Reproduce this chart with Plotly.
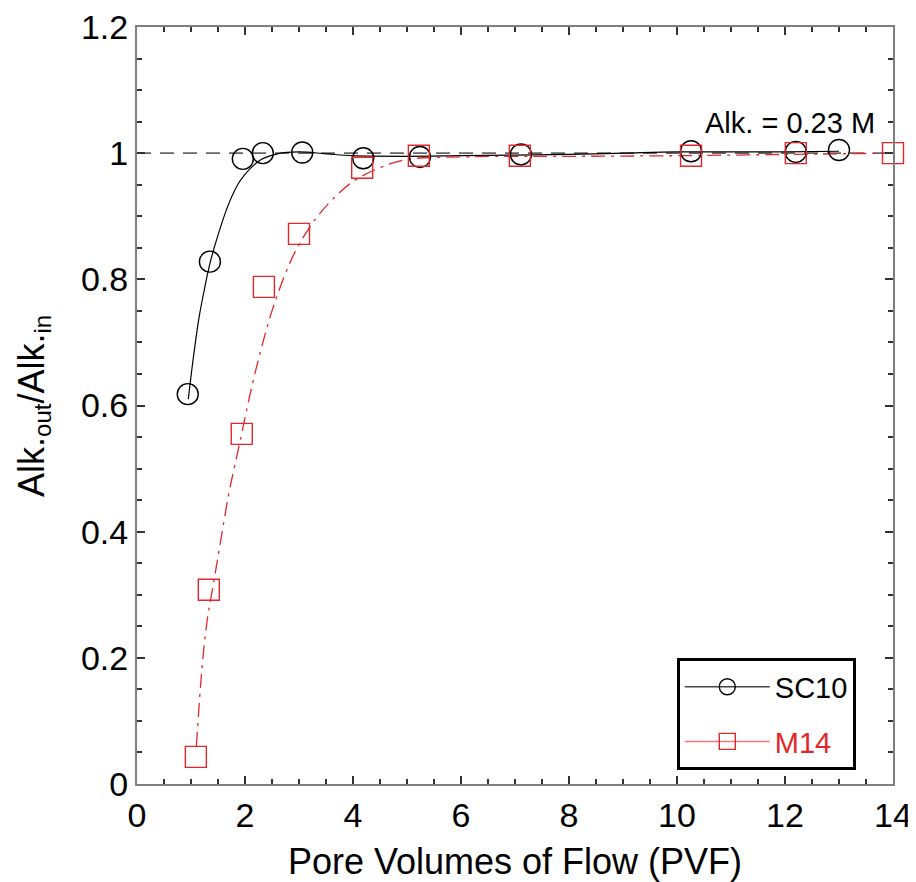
import plotly.graph_objs as go

# pontos medidos - SC10
sc10_x = [0.94, 1.35, 1.96, 2.33, 3.06, 4.19, 5.24, 7.11, 10.26, 12.2, 13.0]
sc10_y = [0.618, 0.828, 0.991, 1.0, 1.001, 0.992, 0.994, 0.998, 1.003, 1.002, 1.005]

# pontos medidos - M14
m14_x = [1.09, 1.33, 1.94, 2.35, 3.0, 4.17, 5.22, 7.09, 10.26, 12.2, 14.0]
m14_y = [0.043, 0.308, 0.555, 0.788, 0.872, 0.977, 0.996, 0.996, 0.996, 1.0, 1.0]

# curva ajustada SC10
fit_sc10_x = [0.95, 1.05, 1.15, 1.25, 1.35, 1.5, 1.7, 1.9, 2.1, 2.3, 2.6, 3.0,
              3.5, 4.0, 5.0, 6.0, 7.0, 8.0, 9.0, 10.0, 11.0, 12.0, 13.0]
fit_sc10_y = [0.61, 0.68, 0.74, 0.785, 0.825, 0.87, 0.92, 0.955, 0.976, 0.99, 0.999, 1.002,
              0.999, 0.996, 0.995, 0.996, 0.997, 0.998, 1.0, 1.002, 1.002, 1.002, 1.003]

# curva ajustada M14
fit_m14_x = [1.1, 1.2, 1.3, 1.4, 1.5, 1.7, 1.9, 2.1, 2.3, 2.5, 2.8, 3.0,
             3.3, 3.6, 4.0, 4.5, 5.0, 6.0, 7.0, 8.0, 10.0, 12.0, 14.0]
fit_m14_y = [0.06, 0.18, 0.26, 0.31, 0.36, 0.46, 0.54, 0.62, 0.69, 0.75, 0.82, 0.855,
             0.895, 0.925, 0.955, 0.977, 0.99, 0.994, 0.995, 0.995, 0.996, 0.998, 1.0]

# linha de referencia
ref_x = [0, 14]
ref_y = [1, 1]

RED = "#e3262b"
FONT = "Liberation Sans, Arial, sans-serif"


def main():
    data = []

    # linha tracejada em 1
    data.append(go.Scatter(x=ref_x, y=ref_y, mode="lines", showlegend=False,
                           line=dict(color="#666666", width=1.6, dash="14px,9px")))

    # curvas ajustadas
    data.append(go.Scatter(x=fit_sc10_x, y=fit_sc10_y, mode="lines", line_shape="spline",
                           showlegend=False, line=dict(color="black", width=1.2)))
    data.append(go.Scatter(x=fit_m14_x, y=fit_m14_y, mode="lines", line_shape="spline",
                           showlegend=False,
                           line=dict(color=RED, width=1.3, dash="14px,6px,3px,6px")))

    # pontos
    data.append(go.Scatter(x=sc10_x, y=sc10_y, mode="markers", showlegend=False,
                           cliponaxis=False,
                           marker=dict(symbol="circle-open", size=21, color="black",
                                       line=dict(width=1.4, color="black"))))
    data.append(go.Scatter(x=m14_x, y=m14_y, mode="markers", showlegend=False,
                           cliponaxis=False,
                           marker=dict(symbol="square-open", size=21, color=RED,
                                       line=dict(width=1.4, color=RED))))

    # itens da legenda (linha + simbolo)
    data.append(go.Scatter(x=[None], y=[None], mode="lines+markers", name="SC10",
                           legendgroup="a",
                           line=dict(color="#444444", width=1.5),
                           marker=dict(symbol="circle-open", size=21, color="black",
                                       line=dict(width=1.4, color="black"))))
    data.append(go.Scatter(x=[None], y=[None], mode="lines+markers",
                           name="<span style='color:" + RED + "'>M14</span>",
                           legendgroup="b",
                           line=dict(color="#ec7b7e", width=1.5),
                           marker=dict(symbol="square-open", size=21, color=RED,
                                       line=dict(width=1.4, color=RED))))

    axis = dict(showline=True, linecolor="#7f7f7f", linewidth=2, mirror="allticks",
                ticks="inside", ticklen=8, tickwidth=1.5, tickcolor="#333333",
                showgrid=False, zeroline=False, automargin=False,
                ticklabeloverflow="allow",
                tickfont=dict(family=FONT, size=34, color="black"))

    # titulo do eixo y (anotacao girada)
    ytitle = dict(x=-0.137, y=0.5, xref="paper", yref="paper", textangle=-90,
                  text="Alk.<sub><span style='font-size:24px'>out</span></sub>"
                       "/Alk.<sub><span style='font-size:24px'>in</span></sub>",
                  showarrow=False, xanchor="center", yanchor="middle",
                  font=dict(family=FONT, size=36, color="black"))

    layout = go.Layout(
        width=908, height=874,
        margin=dict(l=129, r=23, t=19, b=98),
        paper_bgcolor="white", plot_bgcolor="white",
        font=dict(family=FONT, color="black"),
        xaxis=dict(axis, range=[0, 14], dtick=2,
                   minor=dict(dtick=0.5, ticks="inside", ticklen=5, tickcolor="#333333"),
                   title=dict(text="Pore Volumes of Flow (PVF)", standoff=18,
                              font=dict(family=FONT, size=36))),
        yaxis=dict(axis, range=[0, 1.2], dtick=0.2,
                   minor=dict(dtick=0.05, ticks="inside", ticklen=5, tickcolor="#333333")),
        legend=dict(x=0.714, y=0.018, xanchor="left", yanchor="bottom",
                    bgcolor="white", bordercolor="black", borderwidth=3,
                    font=dict(family=FONT, size=29, color="black"),
                    itemwidth=85, tracegroupgap=14),
        annotations=[ytitle,
                     dict(x=13.7, y=1.048, xref="x", yref="y", text="Alk. = 0.23 M",
                          showarrow=False, xanchor="right", yanchor="middle",
                          font=dict(family=FONT, size=29, color="black"))],
    )

    fig = go.Figure(data=data, layout=layout)
    fig.write_html("out.html")


if __name__ == '__main__':
    main()
